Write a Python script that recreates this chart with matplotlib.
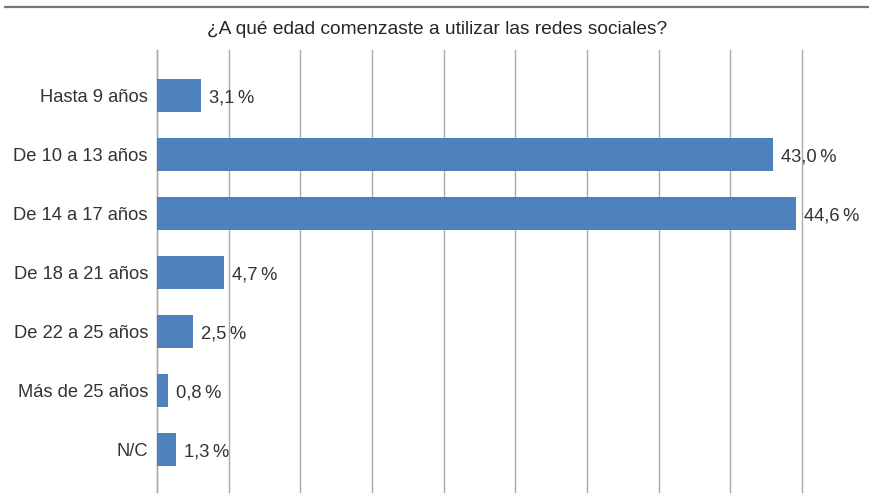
import matplotlib
matplotlib.use("Agg")
import matplotlib.pyplot as plt
from matplotlib.lines import Line2D

categories = ["Hasta 9 años", "De 10 a 13 años", "De 14 a 17 años", "De 18 a 21 años",
              "De 22 a 25 años", "Más de 25 años", "N/C"]
values = [3.1, 43.0, 44.6, 4.7, 2.5, 0.8, 1.3]
title = "¿A qué edad comenzaste a utilizar las redes sociales?"
xticks = [0, 5, 10, 15, 20, 25, 30, 35, 40, 45]

plt.rcParams['font.family'] = ['Liberation Sans', 'DejaVu Sans']

fig = plt.figure(figsize=(8.69, 4.97), dpi=100)
ax = fig.add_axes([157/869, 1 - 492/497, 645/869, 442/497])

ypos = list(range(len(categories)))
ax.barh(ypos, values, height=0.56, color="#4F81BD", zorder=3)
for y, v in zip(ypos, values):
    ax.text(v + 0.55, y, f"{v:.1f}".replace(".", ",") + "\u2009%", va="center_baseline", ha="left",
            fontsize=13.2, color="#333333", zorder=4)

ax.set_xlim(0, 45)
ax.set_ylim(6.72, -0.78)
ax.set_xticks(xticks)
ax.xaxis.grid(True, color="#AAAAAA", linewidth=1.0, zorder=0)
for gl in ax.get_xgridlines():
    gl.set_clip_on(False)
ax.tick_params(axis="x", length=0, labelbottom=False)
ax.tick_params(axis="y", length=0, pad=6.5)
ax.set_yticks(ypos)
ax.set_yticklabels(categories, fontsize=13.2, color="#333333", va="center_baseline")
for s in ["top", "right", "bottom"]:
    ax.spines[s].set_visible(False)
ax.spines["left"].set_color("#AAAAAA")
ax.spines["left"].set_linewidth(1.0)

fig.add_artist(Line2D([5/869, 1.0], [1 - 7/497, 1 - 7/497], color="#777777", linewidth=1.6))
fig.text(437/869, 1 - 29/497, title, ha="center", va="center", fontsize=13.8, color="#262626")

fig.savefig("out.png", dpi=100)
